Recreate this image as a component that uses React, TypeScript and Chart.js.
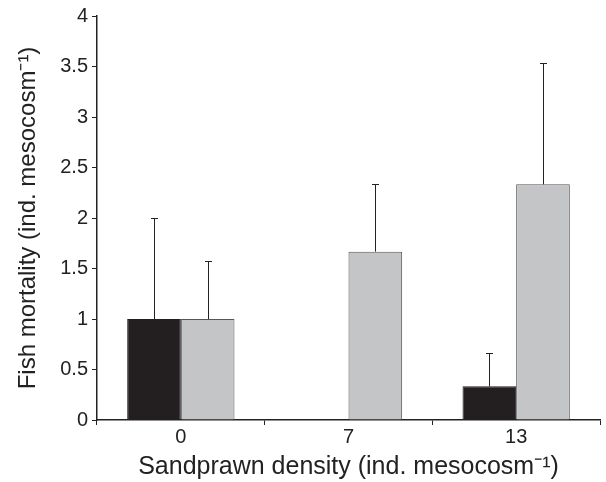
import React, { useEffect, useRef } from "react";
import { Chart, registerables } from "chart.js";

Chart.register(...registerables);

const categories = ["0", "7", "13"];
const blackValues = [1.0, 0, 0.333];
const greyValues = [1.0, 1.667, 2.333];
const blackErrors = [1.0, 0, 0.333];
const greyErrors = [0.577, 0.667, 1.2];
const yTicks = [0, 0.5, 1, 1.5, 2, 2.5, 3, 3.5, 4];

const errorBarPlugin = {
  id: "errorBars",
  afterDatasetsDraw(chart: any) {
    const ctx = chart.ctx;
    const yScale = chart.scales.y;
    const errs = [blackErrors, greyErrors];
    chart.data.datasets.forEach((ds: any, di: number) => {
      const meta = chart.getDatasetMeta(di);
      meta.data.forEach((bar: any, i: number) => {
        const e = errs[di][i];
        if (!e) return;
        const v = ds.data[i];
        const y0 = yScale.getPixelForValue(v);
        const y1 = yScale.getPixelForValue(v + e);
        const x = Math.round(bar.x) + 0.5;
        ctx.save();
        ctx.strokeStyle = "#222";
        ctx.lineWidth = 1;
        ctx.beginPath();
        ctx.moveTo(x, y0);
        ctx.lineTo(x, Math.round(y1));
        ctx.moveTo(x - 3.5, Math.round(y1) + 0.5);
        ctx.lineTo(x + 3.5, Math.round(y1) + 0.5);
        ctx.stroke();
        ctx.restore();
      });
    });
  },
};

export default function App() {
  const ref = useRef<HTMLCanvasElement>(null);
  useEffect(() => {
    document.body.style.margin = "0";
    const chart = new Chart(ref.current!, {
      type: "bar",
      data: {
        labels: categories,
        datasets: [
          {
            data: blackValues,
            backgroundColor: "#231f20",
            borderColor: "#231f20",
            borderWidth: 1,
            barPercentage: 1,
            categoryPercentage: 0.64,
          },
          {
            data: greyValues,
            backgroundColor: "#c4c5c7",
            borderColor: "#555555",
            borderWidth: 1,
            barPercentage: 1,
            categoryPercentage: 0.64,
          },
        ],
      },
      options: {
        animation: false,
        responsive: false,
        layout: { padding: { left: 0, top: 16, right: 6, bottom: 0 } },
        plugins: { legend: { display: false }, tooltip: { enabled: false } },
        scales: {
          x: {
            offset: true,
            afterFit(axis: any) {
              axis.height = 62;
            },
            grid: {
              offset: true,
              drawOnChartArea: false,
              drawTicks: true,
              tickLength: 5,
              color: "#222",
            },
            border: { display: true, color: "#222", width: 1.5 },
            ticks: {
              color: "#222",
              font: { family: "Liberation Sans", size: 20 },
              padding: 0,
            },
            title: {
              display: true,
              text: "Sandprawn density (ind. mesocosm\u207B\u00B9)",
              color: "#222",
              font: { family: "Liberation Sans", size: 25 },
              padding: { top: -2, bottom: 0 },
            },
          },
          y: {
            min: 0,
            max: 4,
            afterBuildTicks(axis: any) {
              axis.ticks = yTicks.map((v) => ({ value: v }));
            },
            afterFit(axis: any) {
              axis.width = 97;
            },
            grid: {
              drawOnChartArea: false,
              drawTicks: true,
              tickLength: 5,
              color: "#222",
            },
            border: { display: true, color: "#222", width: 1.5 },
            ticks: {
              color: "#222",
              font: { family: "Liberation Sans", size: 20 },
              padding: 4,
              callback: (v: any) => String(v),
            },
            title: {
              display: true,
              text: "Fish mortality (ind. mesocosm\u207B\u00B9)",
              color: "#222",
              font: { family: "Liberation Sans", size: 24 },
              padding: { top: 14, bottom: 0 },
            },
          },
        },
      },
      plugins: [errorBarPlugin],
    });
    return () => chart.destroy();
  }, []);
  return (
    <div style={{ position: "absolute", left: 0, top: 0, width: 606, height: 482, background: "#fff" }}>
      <canvas ref={ref} width={606} height={482} />
    </div>
  );
}
